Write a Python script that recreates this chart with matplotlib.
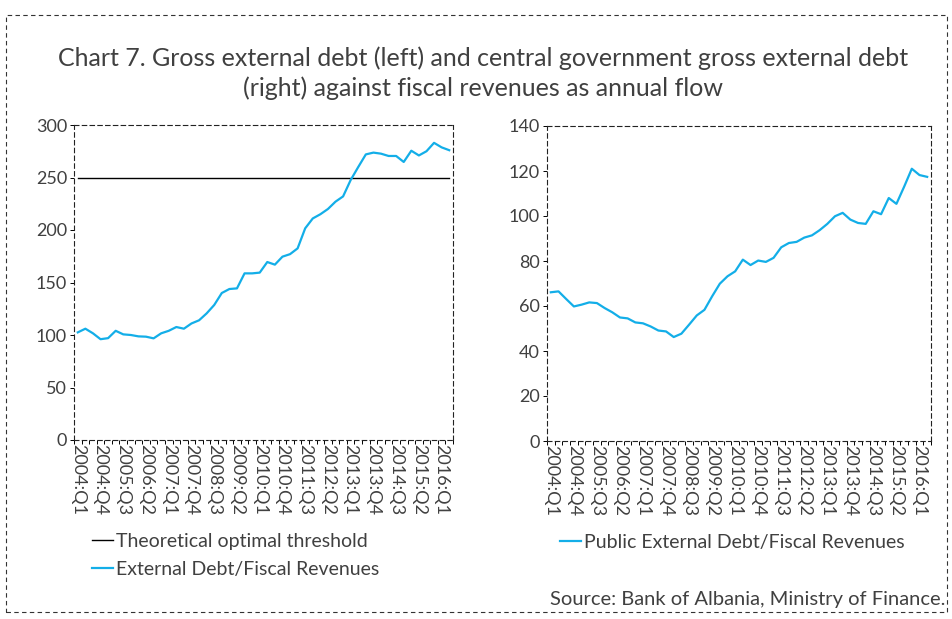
import matplotlib
matplotlib.use("Agg")
import matplotlib.pyplot as plt
from matplotlib.lines import Line2D
from matplotlib.patches import Rectangle
import numpy as np

plt.rcParams['font.family'] = ['Lato', 'DejaVu Sans']

# Quarterly periods 2004:Q1 .. 2016:Q2
quarters = [f"{y}:Q{q}" for y in range(2004, 2017) for q in range(1, 5)][:50]

# Gross external debt / fiscal revenues (annual flow), %
external_debt = [102.5, 106, 101.6, 96, 97, 104, 100.6, 100, 98.7, 98.4,
                 96.8, 101.6, 104, 107.6, 106, 111, 114, 120.6, 128.6, 140,
                 143.8, 144.4, 158.7, 158.7, 159.4, 169.5, 167, 174.6, 177, 182.5,
                 201.6, 211, 215, 220, 227, 232, 247.6, 260, 272, 273.7,
                 272.7, 270.5, 270.5, 264.8, 275.5, 271, 275, 283, 278.7, 276]

# Central government gross external debt / fiscal revenues, %
public_debt = [66.1, 66.5, 63.1, 59.8, 60.6, 61.6, 61.3, 59.1, 57.2, 54.9,
               54.5, 52.7, 52.3, 50.9, 49.1, 48.7, 46.2, 47.7, 51.7, 55.8,
               58.3, 64.3, 69.9, 73.2, 75.4, 80.6, 78.2, 80.2, 79.6, 81.4,
               86.1, 88, 88.5, 90.4, 91.4, 93.7, 96.5, 99.9, 101.4, 98.4,
               96.9, 96.5, 102.1, 100.8, 108, 105.4, 113, 121, 118.2, 117.4]

threshold = 250
left_yticks = [0, 50, 100, 150, 200, 250, 300]
right_yticks = [0, 20, 40, 60, 80, 100, 120, 140]

blue = '#13aee8'
grey = '#404040'
dash = (0, (4, 3))

fig = plt.figure(figsize=(9.53, 6.19), dpi=100)

# dashed frame around the whole chart
fig.patches.append(Rectangle((6 / 953, 1 - 612 / 619), 941 / 953, 597 / 619,
                             transform=fig.transFigure, fill=False,
                             edgecolor='#333333', lw=0.8, linestyle=dash))

fig.text(0.507, 1 - 58 / 619,
         "Chart 7. Gross external debt (left) and central government gross external debt",
         ha='center', va='center', fontsize=18, color=grey)
fig.text(0.507, 1 - 88 / 619,
         "(right) against fiscal revenues as annual flow",
         ha='center', va='center', fontsize=18, color=grey)

ax1 = fig.add_axes([74 / 953, 1 - 440 / 619, 379 / 953, 315 / 619])
ax2 = fig.add_axes([547 / 953, 1 - 441 / 619, 384 / 953, 315 / 619])

x = np.arange(len(quarters))
label_idx = x[::3]


def style(ax, yticks):
    ax.set_xlim(-0.5, len(quarters) - 0.5)
    ax.set_ylim(yticks[0], yticks[-1])
    ax.set_yticks(yticks)
    ax.set_xticks(label_idx)
    ax.set_xticklabels([quarters[i] for i in label_idx], rotation=-90,
                       fontsize=13, color=grey)
    ax.set_xticks(np.arange(-0.5, len(quarters), 1), minor=True)
    ax.tick_params(axis='x', which='major', length=0, pad=3)
    ax.tick_params(axis='x', which='minor', length=3, width=0.7, direction='out')
    ax.tick_params(axis='y', length=3, width=0.7, direction='out',
                   labelsize=13, labelcolor=grey, pad=2)
    for sp in ax.spines.values():
        sp.set_linestyle(dash)
        sp.set_linewidth(0.8)
        sp.set_color('#222222')


ax1.plot(x, [threshold] * len(x), color='black', lw=1.0)
ax1.plot(x, external_debt, color=blue, lw=1.6)
style(ax1, left_yticks)

ax2.plot(x, public_debt, color=blue, lw=1.6)
style(ax2, right_yticks)

leg1 = fig.legend(handles=[Line2D([], [], color='black', lw=1.0),
                           Line2D([], [], color=blue, lw=1.6)],
                  labels=['Theoretical optimal threshold',
                          'External Debt/Fiscal Revenues'],
                  loc='upper left', bbox_to_anchor=(92 / 953, 1 - 533 / 619),
                  frameon=False, fontsize=14, handlelength=1.1,
                  handletextpad=0.15, labelspacing=0.55, borderaxespad=0,
                  borderpad=0)
for t in leg1.get_texts():
    t.set_color(grey)

leg2 = fig.legend(handles=[Line2D([], [], color=blue, lw=1.6)],
                  labels=['Public External Debt/Fiscal Revenues'],
                  loc='upper left', bbox_to_anchor=(560 / 953, 1 - 534 / 619),
                  frameon=False, fontsize=14, handlelength=1.1,
                  handletextpad=0.15, borderaxespad=0, borderpad=0)
for t in leg2.get_texts():
    t.set_color(grey)

fig.text(945 / 953, 1 - 599 / 619, "Source: Bank of Albania, Ministry of Finance.",
         ha='right', va='center', fontsize=14.5, color=grey)

fig.savefig("out.png", dpi=100)
